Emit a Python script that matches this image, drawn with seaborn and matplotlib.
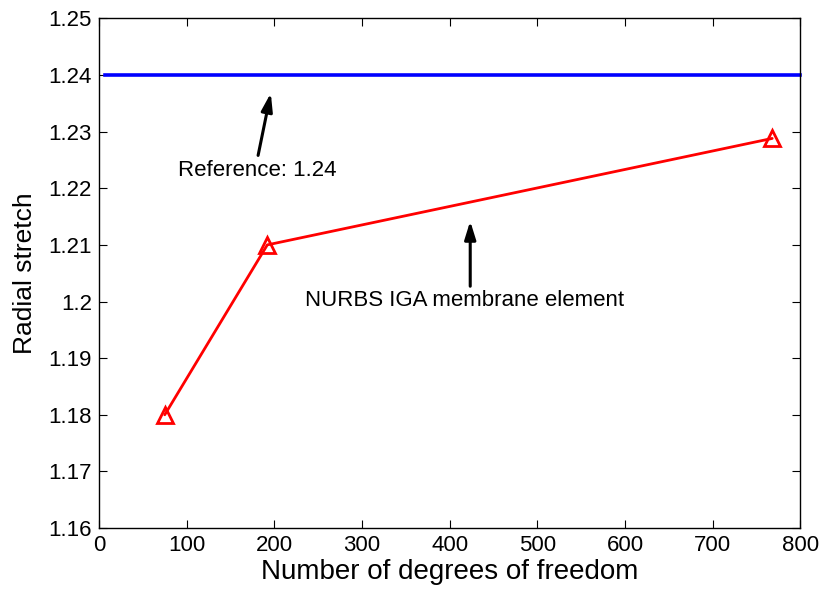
import matplotlib
matplotlib.use("Agg")
import matplotlib.pyplot as plt
from matplotlib.ticker import FuncFormatter
import numpy as np
import pandas as pd
import seaborn as sns

# Convergence of the radial stretch with mesh refinement
dof = [75, 192, 768]
radial_stretch = [1.18, 1.21, 1.2288]

# Reference solution
ref_value = 1.24
ref_x = [7, 800]

x_ticks = [0, 100, 200, 300, 400, 500, 600, 700, 800]
y_ticks = [1.16, 1.17, 1.18, 1.19, 1.20, 1.21, 1.22, 1.23, 1.24, 1.25]

sns.set_theme(style="ticks")
plt.rcParams["font.family"] = ["Liberation Sans", "DejaVu Sans"]
plt.rcParams["text.color"] = "black"
plt.rcParams["axes.labelcolor"] = "black"
plt.rcParams["xtick.color"] = "black"
plt.rcParams["ytick.color"] = "black"

fig = plt.figure(figsize=(8.25, 5.92), dpi=100)
ax = fig.add_axes([0.12, 0.108, 0.85, 0.861])

ref_df = pd.DataFrame({"x": ref_x, "y": [ref_value] * len(ref_x)})
sns.lineplot(data=ref_df, x="x", y="y", ax=ax, color="#0000ff",
             linewidth=2.6, solid_capstyle="projecting", clip_on=False)

iga_df = pd.DataFrame({"dof": dof, "stretch": radial_stretch})
sns.lineplot(data=iga_df, x="dof", y="stretch", ax=ax, color="#ff0000",
             linewidth=2.0, marker="^", markersize=12,
             markerfacecolor="none", markeredgecolor="#ff0000",
             markeredgewidth=2.0)

ax.set_xlim(x_ticks[0], x_ticks[-1])
ax.set_ylim(y_ticks[0], y_ticks[-1])
ax.set_xticks(x_ticks)
ax.set_yticks(y_ticks)
ax.yaxis.set_major_formatter(FuncFormatter(lambda v, p: f"{v:g}"))
ax.xaxis.set_major_formatter(FuncFormatter(lambda v, p: f"{v:g}"))

ax.tick_params(direction="in", length=6, width=0.8, labelsize=16,
               top=True, right=True, colors="black", labelcolor="black", pad=5)
for side in ax.spines.values():
    side.set_visible(True)
    side.set_linewidth(1.0)
    side.set_color("black")

ax.set_xlabel("Number of degrees of freedom", fontsize=20, labelpad=2,
              color="black")
ax.set_ylabel("Radial stretch", fontsize=19, labelpad=8, color="black")

arrow_style = dict(arrowstyle="-|>,head_length=0.9,head_width=0.28",
                   color="black", lw=2.2, shrinkA=0, shrinkB=0)
ax.annotate("", xy=(196, 1.2368), xytext=(181.5, 1.2258),
            arrowprops=arrow_style)
ax.text(90, 1.2232, "Reference: 1.24", fontsize=16, ha="left", va="center",
        color="black")

ax.annotate("", xy=(423.5, 1.2142), xytext=(423.5, 1.2027),
            arrowprops=arrow_style)
ax.text(235, 1.2002, "NURBS IGA membrane element", fontsize=16,
        ha="left", va="center", color="black")

fig.savefig("out.png", dpi=100)
